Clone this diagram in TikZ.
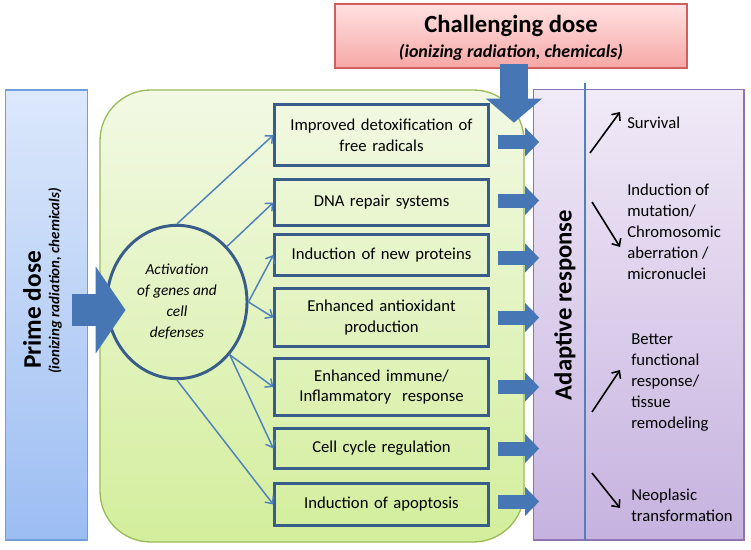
\documentclass[tikz,border=0pt]{standalone}
\usepackage{fontspec}
\setmainfont{Carlito}
\usetikzlibrary{arrows.meta,shapes.geometric}

\definecolor{boxblue}{HTML}{385D8A}
\definecolor{arrowblue}{HTML}{4F81BD}
\definecolor{blockblue}{HTML}{4677B4}
\definecolor{primetop}{HTML}{DCE8FB}
\definecolor{primebot}{HTML}{9CBDF2}
\definecolor{primeline}{HTML}{6F9ED8}
\definecolor{celltop}{HTML}{F2F9E4}
\definecolor{cellbot}{HTML}{D3EE9C}
\definecolor{cellline}{HTML}{9BBB59}
\definecolor{adapttop}{HTML}{F1EAF7}
\definecolor{adaptbot}{HTML}{C6B2DF}
\definecolor{adaptline}{HTML}{8E73B4}
\definecolor{chaltop}{HTML}{FFE1E1}
\definecolor{chalbot}{HTML}{F6A8A6}
\definecolor{challine}{HTML}{D0605D}

\begin{document}
\begin{tikzpicture}[x=0.75pt,y=-0.75pt,>={Straight Barb[length=4.5pt,width=8pt]},
  effect/.style={draw=boxblue, line width=2.2pt, minimum width=160pt, text width=155pt, align=center, inner sep=0pt, font=\fontsize{12.5}{15.5}\selectfont},
  spoke/.style={draw=arrowblue, line width=1.1pt, ->},
  sideout/.style={blockblue, line width=10.5pt, -{Triangle[length=10.5pt,width=21pt]}},
  outtext/.style={anchor=west, inner sep=0pt, align=left, font=\fontsize{12.5}{15.75}\selectfont},
  trend/.style={black, line width=1.2pt, ->}]
\useasboundingbox (0,0) rectangle (751,550);

% panels
\node[draw=primeline, line width=0.8pt, top color=primetop, bottom color=primebot, minimum width=61.5pt, minimum height=337.5pt] (prime) at (46.5,315) {};
\node[draw=cellline, line width=1pt, top color=celltop, bottom color=cellbot, rounded corners=38pt, minimum width=318pt, minimum height=339pt] (cell) at (312,316) {};
\node[draw=adaptline, line width=1pt, top color=adapttop, bottom color=adaptbot, minimum width=158pt, minimum height=338pt] (adapt) at (638.5,314.5) {};
\node[draw=challine, line width=1pt, top color=chaltop, bottom color=chalbot, minimum width=264pt, minimum height=48pt] (chal) at (511,36) {};
\node[font=\fontsize{18.5}{22}\selectfont\bfseries] (chalttl) at (511,26) {Challenging dose};
\node[font=\fontsize{13.5}{16}\selectfont\bfseries\itshape] (chalsub) at (511,52) {(ionizing radiation, chemicals)};
\node[rotate=90, font=\fontsize{19}{22}\selectfont\bfseries] (primettl) at (32,310) {Prime dose};
\node[rotate=90, font=\fontsize{11.2}{13}\selectfont\bfseries\itshape] (primesub) at (55,281) {(ionizing radiation, chemicals)};
\draw[arrowblue, line width=0.8pt] (585,83) -- (adapt.south -| 585,0);

% activation and its effects
\node[draw=boxblue, line width=2.2pt, ellipse, minimum width=105pt, minimum height=115pt, inner sep=0pt, align=center, font=\fontsize{11.5}{15.75}\selectfont\itshape] (act) at (177,302) {Activation\\of genes and\\cell\\defenses};
\node[effect, minimum height=45.8pt] (b1) at (381.5,135) {Improved detoxification of\\free radicals};
\node[effect, minimum height=34.5pt] (b2) at (381.5,202.5) {DNA repair systems};
\node[effect, minimum height=30.8pt] (b3) at (381.5,255) {Induction of new proteins};
\node[effect, minimum height=43.5pt] (b4) at (381.5,317.5) {Enhanced antioxidant\\production};
\node[effect, minimum height=42.8pt] (b5) at (381.5,387) {Enhanced immune/\\Inflammatory\ \ response};
\node[effect, minimum height=30pt] (b6) at (381.5,448.5) {Cell cycle regulation};
\node[effect, minimum height=31.5pt] (b7) at (381.5,504.5) {Induction of apoptosis};

\draw[spoke] (act.90) -- (b1.west);
\draw[spoke] (act.48) -- (b2.west);
\draw[spoke] (act.east) -- (b3.west);
\draw[spoke] (act.east) -- (b4.west);
\draw[spoke] (act.-45) -- (b5.west);
\draw[spoke] (act.-45) -- (b6.west);
\draw[spoke] (act.-90) -- (b7.west);

% block arrows
\draw[blockblue, line width=24pt, -{Triangle[length=22.5pt,width=64.5pt]}] ([shift={(25.5,-5)}]prime.center) -- ([shift={(20,8)}]act.west);
\draw[blockblue, line width=21pt, -{Triangle[length=18pt,width=41pt]}] ([shift={(3,-5)}]chal.south) -- ([shift={(3,54)}]chal.south);
\foreach \b/\dy in {b1/7,b2/-2,b3/3,b4/0,b5/0,b6/0,b7/-3}{
  \coordinate (s) at ([shift={(0,\dy)}]\b.east);
  \draw[sideout, shorten <=6pt, shorten >=-5pt] (s) -- (s -| adapt.west);
}

% outcomes
\node[rotate=90, font=\fontsize{18.5}{22}\selectfont\bfseries] (adlbl) at (565,305) {Adaptive response};
\node[outtext] (surv) at (627,123) {Survival};
\node[outtext] (mut) at (627,232) {Induction of\\mutation/\\Chromosomic\\aberration /\\micronuclei};
\node[outtext] (func) at (631,383) {Better\\functional\\response/\\tissue\\remodeling};
\node[outtext] (neo) at (631,505) {Neoplasic\\transformation};
\draw[trend] ([shift={(-37,30)}]surv.west) -- ([shift={(-7,-11)}]surv.west);
\draw[trend] ([shift={(-35,-30)}]mut.west) -- ([shift={(-7,15)}]mut.west);
\draw[trend] ([shift={(-39,29)}]func.west) -- ([shift={(-11,-13)}]func.west);
\draw[trend] ([shift={(-39,-32)}]neo.west) -- ([shift={(-11,3)}]neo.west);
\end{tikzpicture}
\end{document}
